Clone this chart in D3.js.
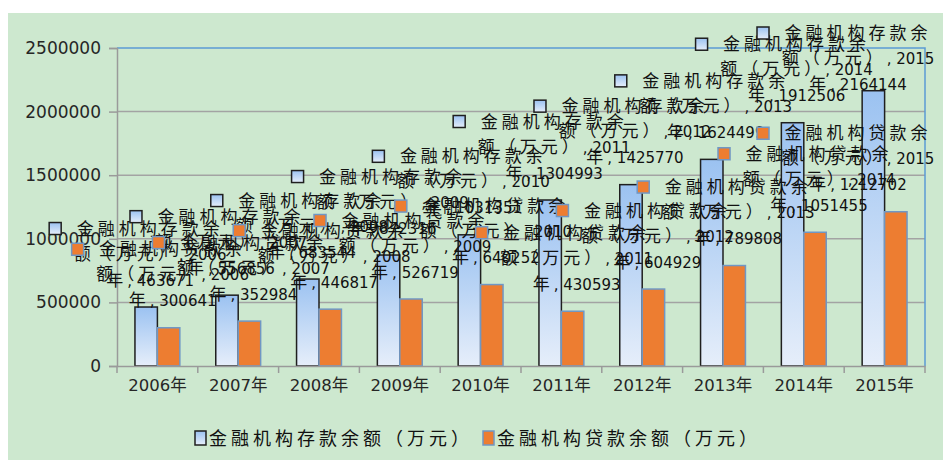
<!DOCTYPE html>
<html>
<head>
<meta charset="utf-8">
<script src="https://cdn.jsdelivr.net/npm/d3@7"></script>
<style>
  body { margin: 0; background: #ffffff; }
  svg { display: block; }
</style>
</head>
<body>
<div id="chart"></div>
<script>
// Data
var years = ["2006年", "2007年", "2008年", "2009年", "2010年", "2011年", "2012年", "2013年", "2014年", "2015年"];
var depositValues = [463671, 556856, 683544, 872316, 1031351, 1304993, 1425770, 1624499, 1912506, 2164144];
var loanValues = [300641, 352984, 446817, 526719, 640252, 430593, 604929, 789808, 1051455, 1212702];
var seriesNames = ["金融机构存款余额（万元）", "金融机构贷款余额（万元）"];
var yTicks = [0, 500000, 1000000, 1500000, 2000000, 2500000];

// Canvas and plot area
var width = 943;
var height = 467;
var plotLeft = 117, plotRight = 925, plotTop = 48, plotBottom = 366;
var latin = "'DejaVu Sans', 'Noto Sans CJK SC', sans-serif";
var cjk = "'Noto Sans CJK SC', 'DejaVu Sans', sans-serif";

var svg = d3.select("#chart")
  .append("svg")
  .attr("width", width)
  .attr("height", height);

// gradient for the deposit bars
var defs = svg.append("defs");
var grad = defs.append("linearGradient")
  .attr("id", "depGrad")
  .attr("x1", 0).attr("y1", 0).attr("x2", 0).attr("y2", 1);
grad.append("stop").attr("offset", "0%").attr("stop-color", "#9bc2f1");
grad.append("stop").attr("offset", "100%").attr("stop-color", "#e6eefa");

// green chart area
svg.append("rect")
  .attr("x", 8).attr("y", 13)
  .attr("width", width - 8).attr("height", 447)
  .attr("fill", "#cde8cf");

// scales
var x0 = d3.scaleBand().domain(years).range([plotLeft, plotRight]);
var x1 = d3.scaleBand().domain([0, 1]).range([0, x0.bandwidth()]).paddingOuter(0.8);
var y = d3.scaleLinear().domain([0, 2500000]).range([plotBottom, plotTop]);

// gridlines (the top one is the blue border)
svg.append("g")
  .selectAll("line")
  .data(yTicks.slice(1, -1))
  .enter()
  .append("line")
  .attr("x1", plotLeft).attr("x2", plotRight)
  .attr("y1", function(d) { return y(d); })
  .attr("y2", function(d) { return y(d); })
  .attr("stroke", "#a3a3a3")
  .attr("stroke-width", 1.5);

// blue border top & right
svg.append("path")
  .attr("d", "M" + plotLeft + "," + y(2500000) + "H" + plotRight + "V" + plotBottom)
  .attr("fill", "none")
  .attr("stroke", "#5b9bd5")
  .attr("stroke-width", 1.5);

// bars
var rows = years.map(function(yr, i) {
  return { year: yr, values: [depositValues[i], loanValues[i]] };
});

var groups = svg.append("g")
  .selectAll("g")
  .data(rows)
  .enter()
  .append("g")
  .attr("transform", function(d) { return "translate(" + x0(d.year) + ",0)"; });

groups.selectAll("rect")
  .data(function(d) { return d.values.map(function(v, s) { return { s: s, v: v }; }); })
  .enter()
  .append("rect")
  .attr("x", function(d) { return x1(d.s); })
  .attr("width", x1.bandwidth())
  .attr("y", function(d) { return y(d.v); })
  .attr("height", function(d) { return plotBottom - y(d.v); })
  .attr("fill", function(d) { return d.s === 0 ? "url(#depGrad)" : "#ed7d31"; })
  .attr("stroke", function(d) { return d.s === 0 ? "#1f1f1f" : "#7097c4"; })
  .attr("stroke-width", 1.5);

// y axis
var yAxis = d3.axisLeft(y).tickValues(yTicks).tickSize(8).tickPadding(8).tickFormat(d3.format("d"));
var yG = svg.append("g")
  .attr("transform", "translate(" + plotLeft + ",0)")
  .call(yAxis);
yG.selectAll("path, line").attr("stroke", "#9a9a9a").attr("stroke-width", 1.5);
yG.selectAll("text")
  .attr("font-family", latin)
  .attr("font-size", 17)
  .attr("fill", "#262626");

// x axis
var xAxis = d3.axisBottom(x0).tickSize(0).tickPadding(13);
var xG = svg.append("g")
  .attr("transform", "translate(0," + plotBottom + ")")
  .call(xAxis);
xG.select("path").attr("stroke", "#9a9a9a").attr("stroke-width", 1.5);
xG.selectAll("text")
  .attr("font-family", latin)
  .attr("font-size", 16.5)
  .attr("fill", "#262626");
// ticks between categories
xG.selectAll("line.sep")
  .data(years.map(function(d) { return x0(d); }).concat([plotRight]))
  .enter()
  .append("line")
  .attr("class", "sep")
  .attr("x1", function(d) { return d; })
  .attr("x2", function(d) { return d; })
  .attr("y1", 0).attr("y2", 7)
  .attr("stroke", "#9a9a9a")
  .attr("stroke-width", 1.5);

// data labels with legend keys (Excel style, overlapping)
function addLine(g, str, cx, by) {
  var t = g.append("text")
    .attr("x", cx)
    .attr("y", by)
    .attr("text-anchor", "middle")
    .attr("fill", "#111");
  var parts = str.match(/[\u3000-\u9fff\uff00-\uffef]+|[^\u3000-\u9fff\uff00-\uffef]+/g);
  parts.forEach(function(p) {
    var isCjk = /[\u3000-\u9fff\uff00-\uffef]/.test(p);
    t.append("tspan")
      .attr("font-family", isCjk ? cjk : latin)
      .attr("font-size", isCjk ? 17 : 15)
      .style("letter-spacing", isCjk ? "4px" : "0px")
      .text(p);
  });
}

var labelLayer = svg.append("g");
[0, 1].forEach(function(s) {
  var vals = s === 0 ? depositValues : loanValues;
  years.forEach(function(yr, i) {
    var v = vals[i];
    var barCenter = x0(yr) + x1(s) + x1.bandwidth() / 2;
    var mx = Math.min(barCenter - 91, width - 180);
    var my = Math.max(y(v) - 78.5, 33);
    var g = labelLayer.append("g");
    g.append("rect")
      .attr("x", mx - 6).attr("y", my - 6)
      .attr("width", 12).attr("height", 12)
      .attr("fill", s === 0 ? "url(#depGrad)" : "#ed7d31")
      .attr("stroke", s === 0 ? "#1f1f1f" : "#7097c4")
      .attr("stroke-width", 1.5);
    var name = seriesNames[s];
    var cx = mx + 95;
    addLine(g, name.slice(0, 7), cx, my + 6);
    addLine(g, name.slice(7) + ", " + yr.slice(0, 4), cx, my + 31);
    addLine(g, yr.slice(4) + ", " + v, cx, my + 57);
  });
});

// legend
var legend = svg.append("g");
var legendX = [195, 483];
seriesNames.forEach(function(name, s) {
  legend.append("rect")
    .attr("x", legendX[s]).attr("y", 431)
    .attr("width", 11).attr("height", 14)
    .attr("fill", s === 0 ? "url(#depGrad)" : "#ed7d31")
    .attr("stroke", s === 0 ? "#1f1f1f" : "#7097c4")
    .attr("stroke-width", 1.5);
  legend.append("text")
    .attr("x", legendX[s] + 14)
    .attr("y", 445)
    .attr("font-family", cjk)
    .attr("font-size", 18)
    .style("letter-spacing", "4px")
    .attr("fill", "#111")
    .text(name);
});
</script>
</body>
</html>
